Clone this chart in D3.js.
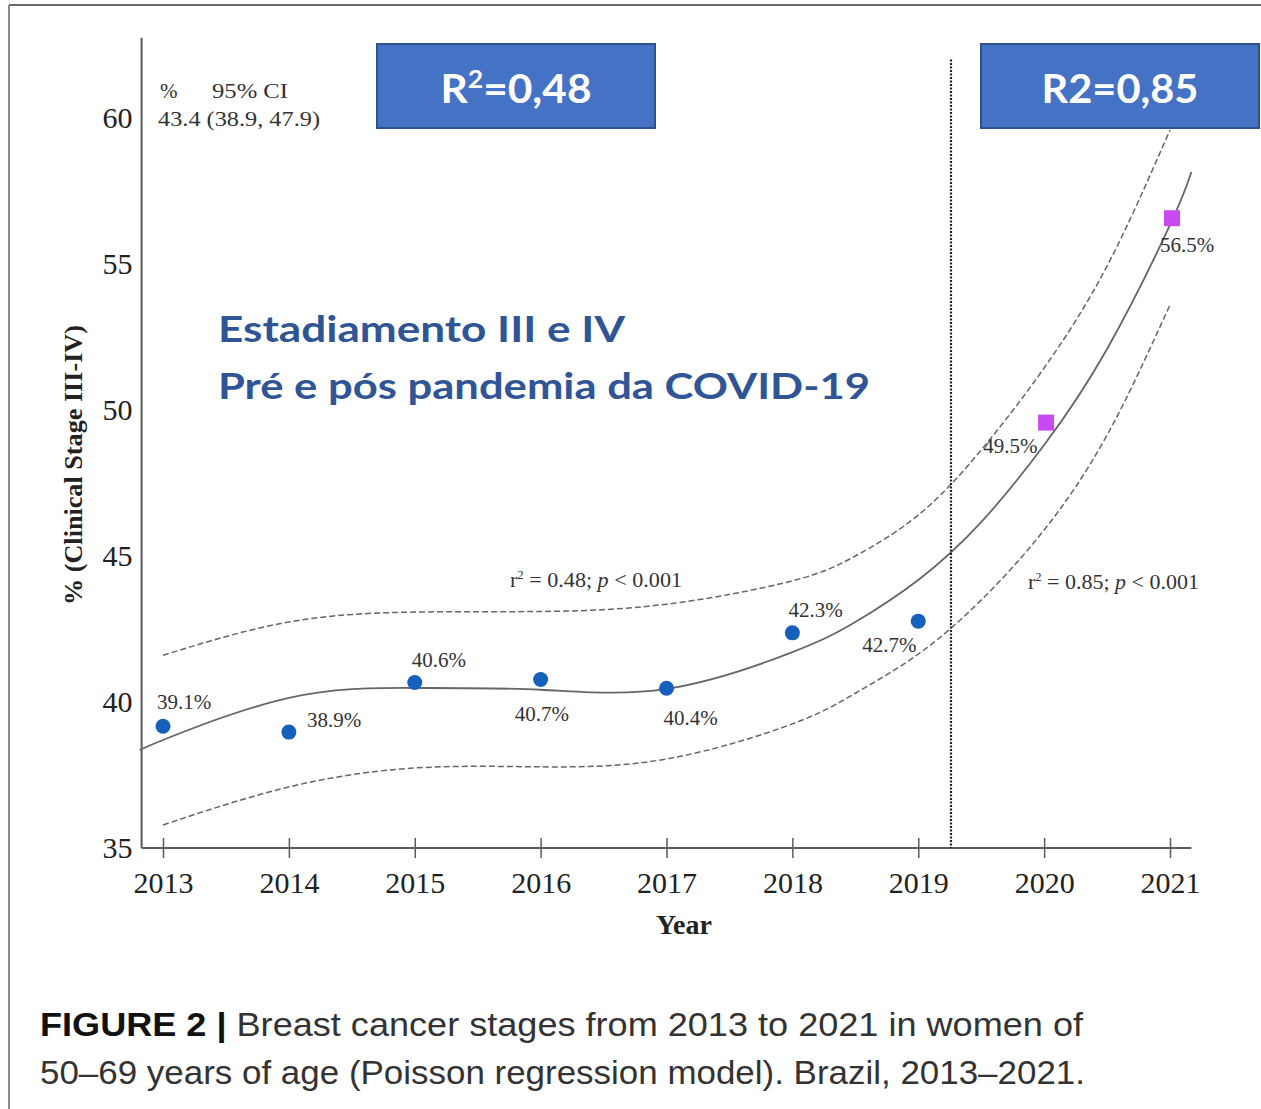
<!DOCTYPE html>
<html>
<head>
<meta charset="utf-8">
<script src="https://cdn.jsdelivr.net/npm/d3@7/dist/d3.min.js"></script>
<style>
  html, body { margin: 0; padding: 0; background: #fff; }
  svg { display: block; }
</style>
</head>
<body>
<svg id="chart" width="1261" height="1109"></svg>
<script>
// ---------- data ----------
const years = [2013, 2014, 2015, 2016, 2017, 2018, 2019, 2020, 2021];
const pct = [39.1, 38.9, 40.6, 40.7, 40.4, 42.3, 42.7, 49.5, 56.5];
const period = ["pre", "pre", "pre", "pre", "pre", "pre", "pre", "post", "post"];
const pctLabels = ["39.1%", "38.9%", "40.6%", "40.7%", "40.4%", "42.3%", "42.7%", "49.5%", "56.5%"];

const fitYears = [2012.83, 2013, 2014, 2015, 2016, 2017, 2018, 2018.5, 2019, 2019.5, 2020, 2020.5, 2021, 2021.17];
const fitValues = [38.36, 38.7, 40.14, 40.48, 40.42, 40.45, 41.71, 42.74, 44.18, 46.16, 48.8, 52.09, 56.34, 58.15];

const ciYears = [2013, 2014, 2015, 2016, 2017, 2018, 2018.5, 2019, 2019.5, 2020, 2020.5, 2021];
const ciUpper = [41.6, 42.74, 43.08, 43.1, 43.35, 44.15, 45.0, 46.4, 48.63, 51.44, 54.93, 59.59];
const ciLower = [35.79, 37.09, 37.74, 37.78, 38.05, 39.25, 40.3, 41.64, 43.49, 45.89, 49.14, 53.6];

const yTicks = [35, 40, 45, 50, 55, 60];
const dividerYear = 2019.26;

// ---------- setup ----------
const svg = d3.select("#chart");
const serif = "'Liberation Serif', 'Times New Roman', serif";
const axisColor = "#5a5a5a";

const x = d3.scaleLinear().domain([2013, 2021]).range([163, 1170]);
const y = d3.scaleLinear().domain([35, 60]).range([848, 118]);

// outer frame (top + left)
svg.append("line").attr("x1", 9).attr("x2", 1261).attr("y1", 5).attr("y2", 5)
  .attr("stroke", "#6b6b6b").attr("stroke-width", 2);
svg.append("line").attr("x1", 9).attr("x2", 9).attr("y1", 5).attr("y2", 1109)
  .attr("stroke", "#8a8a8a").attr("stroke-width", 2);

// ---------- axes ----------
const yAxis = svg.append("g").attr("transform", `translate(${x(2012.83)},0)`)
  .call(d3.axisLeft(y).tickValues(yTicks).tickSize(0).tickPadding(9));
yAxis.select(".domain").remove();
yAxis.attr("font-family", null).attr("font-size", null);
yAxis.selectAll("text").style("font-family", serif).style("font-size", "30px").attr("fill", "#222");

svg.append("line")
  .attr("x1", x(2012.83)).attr("x2", x(2012.83))
  .attr("y1", y(35)).attr("y2", y(62.75))
  .attr("stroke", axisColor).attr("stroke-width", 2);

const xAxis = svg.append("g").attr("transform", `translate(0,${y(35)})`)
  .call(d3.axisBottom(x).tickValues(years).tickFormat(d3.format("d")).tickSize(10));
xAxis.select(".domain").remove();
xAxis.attr("font-family", null).attr("font-size", null);
xAxis.selectAll(".tick line").attr("y1", -10).attr("y2", 10)
  .attr("stroke", axisColor).attr("stroke-width", 1.5);
xAxis.selectAll("text").attr("y", 45).attr("dy", null)
  .style("font-family", serif).style("font-size", "30px").attr("fill", "#222");

svg.append("line")
  .attr("x1", x(2012.83)).attr("x2", x(2021.17))
  .attr("y1", y(35)).attr("y2", y(35))
  .attr("stroke", axisColor).attr("stroke-width", 2);

svg.append("text").attr("x", 684).attr("y", 934).attr("text-anchor", "middle")
  .attr("font-family", serif).attr("font-weight", "bold").attr("font-size", 28)
  .attr("fill", "#222").text("Year");

svg.append("text")
  .attr("transform", "translate(82,465) rotate(-90)")
  .attr("text-anchor", "middle")
  .attr("font-family", serif).attr("font-weight", "bold").attr("font-size", 25)
  .attr("fill", "#222")
  .attr("textLength", 280).attr("lengthAdjust", "spacingAndGlyphs")
  .text("% (Clinical Stage III-IV)");

// ---------- curves ----------
const lineGen = d3.line().x(d => x(d[0])).y(d => y(d[1])).curve(d3.curveNatural);

svg.append("path")
  .attr("d", lineGen(ciYears.map((yr, i) => [yr, ciUpper[i]])))
  .attr("fill", "none").attr("stroke", "#666").attr("stroke-width", 1.5)
  .attr("stroke-dasharray", "6,3");
svg.append("path")
  .attr("d", lineGen(ciYears.map((yr, i) => [yr, ciLower[i]])))
  .attr("fill", "none").attr("stroke", "#666").attr("stroke-width", 1.5)
  .attr("stroke-dasharray", "6,3");
svg.append("path")
  .attr("d", lineGen(fitYears.map((yr, i) => [yr, fitValues[i]])))
  .attr("fill", "none").attr("stroke", "#666").attr("stroke-width", 1.8);

// divider
svg.append("line")
  .attr("x1", x(dividerYear)).attr("x2", x(dividerYear))
  .attr("y1", y(62)).attr("y2", y(35))
  .attr("stroke", "#222").attr("stroke-width", 2.2)
  .attr("stroke-dasharray", "2,1.5");

// ---------- points ----------
const pts = years.map((yr, i) => ({ yr, v: pct[i], p: period[i], lab: pctLabels[i] }));
svg.selectAll("circle.pt").data(pts.filter(d => d.p === "pre")).join("circle")
  .attr("class", "pt")
  .attr("cx", d => x(d.yr)).attr("cy", d => y(d.v) - 2)
  .attr("r", 7.5).attr("fill", "#1560bd");
const sq = 16;
svg.selectAll("rect.pt").data(pts.filter(d => d.p === "post")).join("rect")
  .attr("class", "pt")
  .attr("x", d => x(d.yr) + 2 - sq / 2).attr("y", d => y(d.v) - 2 - sq / 2)
  .attr("width", sq).attr("height", sq).attr("fill", "#c94af0");

// label placement (dx from point x to label start, dy from point y to baseline)
const labelPlacement = [[-6, -17], [18, -5], [-3, -15], [-26, 41], [-3, 37], [-4, -16], [-56, 31], [-61, 30], [-10, 34]];
svg.selectAll("text.lab").data(pts).join("text")
  .attr("class", "lab")
  .attr("x", (d, i) => x(d.yr) + labelPlacement[i][0])
  .attr("y", (d, i) => y(d.v) - 2 + labelPlacement[i][1])
  .attr("font-family", serif).attr("font-size", 21).attr("fill", "#333")
  .text(d => d.lab);

// r² annotations
function rLabel(xs, ys, r2, w) {
  const t = svg.append("text").attr("x", xs).attr("y", ys)
    .attr("font-family", serif).attr("font-size", 21).attr("fill", "#333")
    .attr("textLength", w).attr("lengthAdjust", "spacingAndGlyphs");
  t.append("tspan").text("r");
  t.append("tspan").attr("font-size", 12).attr("dy", -8).text("2");
  t.append("tspan").attr("dy", 8).text(" = " + r2 + "; ");
  t.append("tspan").attr("font-style", "italic").text("p");
  t.append("tspan").text(" < 0.001");
}
rLabel(510, 587, "0.48", 172);
rLabel(1028, 589, "0.85", 171);

// header top-left
svg.append("text").attr("x", 160).attr("y", 98)
  .attr("font-family", serif).attr("font-size", 21).attr("fill", "#333").text("%");
svg.append("text").attr("x", 212).attr("y", 98)
  .attr("font-family", serif).attr("font-size", 21).attr("fill", "#333")
  .attr("textLength", 76).attr("lengthAdjust", "spacingAndGlyphs").text("95% CI");
svg.append("text").attr("x", 158).attr("y", 126)
  .attr("font-family", serif).attr("font-size", 21).attr("fill", "#333")
  .attr("textLength", 162).attr("lengthAdjust", "spacingAndGlyphs")
  .text("43.4 (38.9, 47.9)");

// ---------- overlay annotation boxes ----------
const sans = "Lato, 'Open Sans', sans-serif";
function box(bx, label, sup, rest, tw) {
  svg.append("rect").attr("x", bx).attr("y", 44).attr("width", 278).attr("height", 84)
    .attr("fill", "#4472c4").attr("stroke", "#2f528f").attr("stroke-width", 2);
  const t = svg.append("text").attr("x", bx + 139).attr("y", 103).attr("text-anchor", "middle")
    .attr("font-family", sans).attr("font-weight", "bold").attr("font-size", 40).attr("fill", "#fff")
    .attr("textLength", tw).attr("lengthAdjust", "spacingAndGlyphs");
  t.append("tspan").text(label);
  if (sup) {
    t.append("tspan").attr("font-size", 25).attr("dy", -15).text(sup);
    t.append("tspan").attr("dy", 15).text(rest);
  } else {
    t.append("tspan").text(rest);
  }
}
box(377, "R", "2", "=0,48", 151);
box(981, "R2", null, "=0,85", 157);

const blue = "#2f5597";
svg.append("text").attr("x", 218).attr("y", 342)
  .attr("font-family", sans).attr("font-weight", "bold").attr("font-size", 37).attr("fill", blue)
  .attr("textLength", 407).attr("lengthAdjust", "spacingAndGlyphs")
  .text("Estadiamento III e IV");
svg.append("text").attr("x", 218).attr("y", 399)
  .attr("font-family", sans).attr("font-weight", "bold").attr("font-size", 37).attr("fill", blue)
  .attr("textLength", 652).attr("lengthAdjust", "spacingAndGlyphs")
  .text("Pré e pós pandemia da COVID-19");

// ---------- caption ----------
const capFont = "'Liberation Sans', Arial, sans-serif";
const cap1 = svg.append("text").attr("x", 40).attr("y", 1036)
  .attr("font-family", capFont).attr("font-size", 33).attr("fill", "#333")
  .attr("textLength", 1043).attr("lengthAdjust", "spacingAndGlyphs");
cap1.append("tspan").attr("font-weight", "bold").attr("fill", "#111").text("FIGURE 2 | ");
cap1.append("tspan").text("Breast cancer stages from 2013 to 2021 in women of");
svg.append("text").attr("x", 40).attr("y", 1084)
  .attr("font-family", capFont).attr("font-size", 33).attr("fill", "#333")
  .attr("textLength", 1045).attr("lengthAdjust", "spacingAndGlyphs")
  .text("50–69 years of age (Poisson regression model). Brazil, 2013–2021.");
</script>
</body>
</html>
